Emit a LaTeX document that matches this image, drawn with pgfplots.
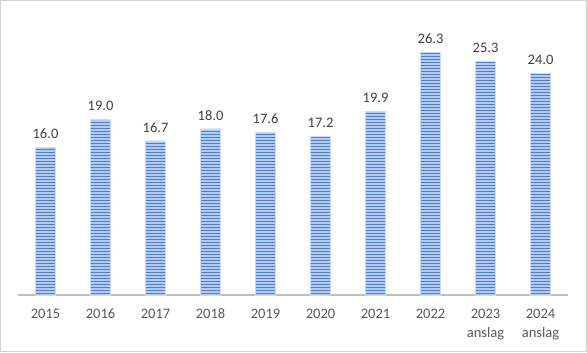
\documentclass[border=0pt]{standalone}
\usepackage{pgfplots}
\pgfplotsset{compat=1.18}
\usetikzlibrary{patterns}
\usepackage{fontspec}
\setmainfont{Carlito}
\definecolor{barfill}{HTML}{B4CBEE}
\definecolor{barline}{HTML}{4E7FCF}
\definecolor{txt}{HTML}{404040}
\definecolor{ticktxt}{HTML}{595959}
\definecolor{axisgray}{HTML}{BFBFBF}
\pgfdeclarepatternformonly[\stripewidth]{hstripes}{\pgfqpoint{-1bp}{-1bp}}{\pgfqpoint{61bp}{4bp}}{\pgfqpoint{60bp}{3bp}}{%
  \pgfsetlinewidth{\stripewidth}%
  \pgfpathmoveto{\pgfqpoint{-1bp}{1.5bp}}%
  \pgfpathlineto{\pgfqpoint{61bp}{1.5bp}}%
  \pgfusepath{stroke}%
}
\newdimen\stripewidth
\stripewidth=1.2bp
\begin{document}
\begin{tikzpicture}[x=1bp,y=1bp]
\begin{axis}[
  at={(0,0)}, anchor=south west,
  scale only axis,
  width=550bp, height=277bp,
  xmin=-0.5, xmax=9.5, ymin=0, ymax=30,
  axis y line=none,
  axis x line*=bottom,
  x axis line style={axisgray, line width=1.5bp, -},
  xtick=data,
  xticklabels={\strut 2015,\strut 2016,\strut 2017,\strut 2018,\strut 2019,\strut 2020,\strut 2021,\strut 2022,{\strut 2023\\anslag},{\strut 2024\\anslag}},
  xticklabel style={align=center, font=\fontsize{14.5bp}{19bp}\selectfont, text=ticktxt, yshift=-7bp},
  major tick length=0pt,
  ybar, bar width=20bp,
  nodes near coords,
  /pgf/number format/assume math mode=true,
  nodes near coords style={font=\fontsize{14.5bp}{16bp}\selectfont, text=txt, /pgf/number format/.cd, fixed, fixed zerofill, precision=1, assume math mode=true, /tikz/.cd, yshift=5bp},
  clip=false,
]
\addplot[draw=barfill!70!white, line width=0.5bp, fill=barfill,
  postaction={pattern=hstripes, pattern color=barline}]
  coordinates {(0,16.0) (1,19.0) (2,16.7) (3,18.0) (4,17.6) (5,17.2) (6,19.9) (7,26.3) (8,25.3) (9,24.0)};
\end{axis}
\draw[gray!35, line width=1bp] (-17.5,-56.5) rectangle (568.5,294.5);
\end{tikzpicture}
\end{document}
